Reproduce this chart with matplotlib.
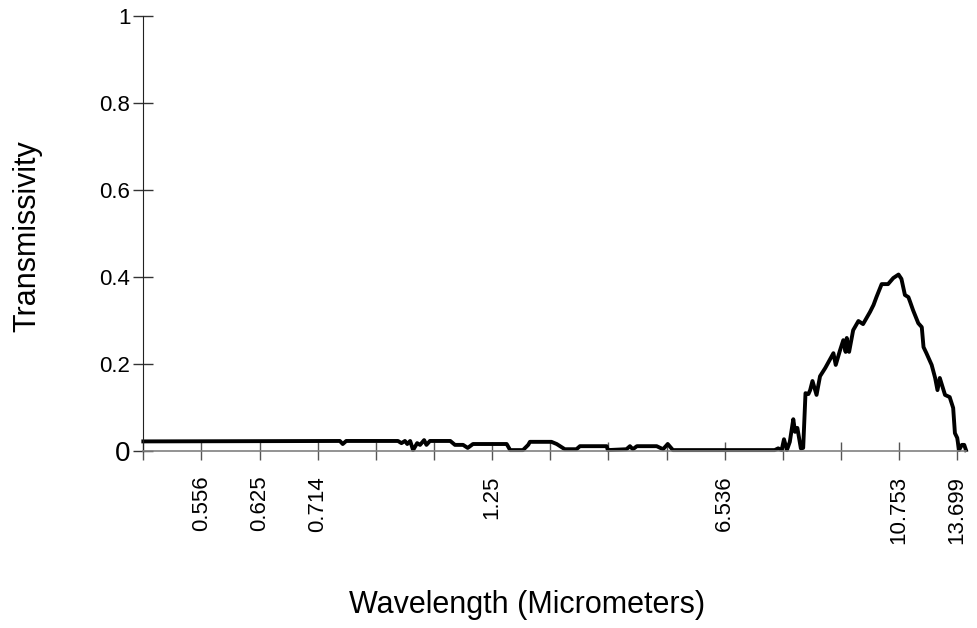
# plot_transmissivity.py
# Transmissivity spectrum vs wavelength band, drawn on an evenly spaced
# band axis (only a few band centres are labelled).

import matplotlib.pyplot as plt

# band positions (10 units per tick) and transmissivity
band_pos = [
    0.0, 33.8, 34.3, 34.9, 43.8, 44.4, 45.0, 45.4, 45.9, 46.4,
    47.1, 47.6, 48.3, 48.7, 49.3, 52.8, 53.6, 55.0, 55.8, 56.7,
    62.5, 63.1, 65.3, 66.2, 66.5, 70.2, 71.1, 72.5, 74.5, 75.1,
    79.7, 79.9, 83.1, 83.7, 84.2, 84.9, 88.3, 89.4, 90.2, 91.1,
    108.6, 109.2, 109.8, 110.2, 110.7, 111.2, 111.8, 112.1, 112.5, 113.1,
    113.5, 113.9, 114.4, 114.7, 115.1, 115.8, 116.4, 117.3, 118.7, 119.1,
    119.8, 120.4, 120.8, 121.0, 121.4, 122.1, 123.0, 123.8, 125.0, 125.6,
    126.1, 127.0, 128.1, 129.0, 129.9, 130.4, 131.0, 131.6, 131.9, 132.4,
    133.3, 133.9, 134.2, 134.7, 135.6, 136.2, 136.6, 137.0, 137.9, 138.7,
    139.3, 139.6, 140.0, 140.3, 140.8, 141.2, 141.5,
]
transmissivity = [
    0.021, 0.022, 0.015, 0.022, 0.022, 0.017, 0.022, 0.015, 0.022, 0.001,
    0.017, 0.013, 0.024, 0.013, 0.022, 0.022, 0.013, 0.013, 0.006, 0.015,
    0.015, 0.001, 0.001, 0.013, 0.020, 0.020, 0.015, 0.003, 0.003, 0.010,
    0.010, 0.001, 0.003, 0.010, 0.003, 0.010, 0.010, 0.003, 0.015, 0.001,
    0.001, 0.005, 0.001, 0.026, 0.001, 0.020, 0.072, 0.043, 0.052, 0.005,
    0.006, 0.132, 0.130, 0.139, 0.160, 0.128, 0.171, 0.190, 0.224, 0.197,
    0.229, 0.254, 0.227, 0.259, 0.227, 0.277, 0.298, 0.291, 0.319, 0.335,
    0.353, 0.383, 0.383, 0.397, 0.405, 0.395, 0.358, 0.353, 0.342, 0.323,
    0.293, 0.284, 0.238, 0.224, 0.197, 0.167, 0.139, 0.167, 0.128, 0.123,
    0.098, 0.040, 0.029, 0.001, 0.013, 0.013, 0.001,
]

tick_pos = [0, 10, 20, 30, 40, 50, 60, 70, 80, 90, 100, 110, 120, 130, 140]
tick_labels = ["", "0.556", "0.625", "0.714", "", "", "1.25", "", "", "",
               "6.536", "", "", "10.753", "13.699"]

y_ticks = [0, 0.2, 0.4, 0.6, 0.8, 1]
y_labels = ["0", "0.2", "0.4", "0.6", "0.8", "1"]


def main():
    plt.rcParams["font.family"] = ["Liberation Sans", "DejaVu Sans"]

    fig = plt.figure(figsize=(9.77, 6.28), dpi=100)
    ax = fig.add_axes([0.1467, 0.2826, 0.842, 0.6919])

    ax.plot(band_pos, transmissivity, color="black", linewidth=2.8,
            solid_joinstyle="round", clip_on=False)

    ax.set_xlim(0, 141.5)
    ax.set_ylim(0, 1)

    for side in ("top", "right"):
        ax.spines[side].set_visible(False)
    ax.spines["left"].set_color("#222222")
    ax.spines["bottom"].set_color("#808080")
    ax.spines["bottom"].set_linewidth(1.2)

    ax.set_xticks(tick_pos)
    ax.set_xticklabels(tick_labels, rotation=90, va="top", fontsize=16)
    ax.tick_params(axis="x", direction="inout", length=12.5, width=1,
                   color="#555555", pad=12)

    ax.set_yticks(y_ticks)
    ax.set_yticklabels(y_labels, fontsize=16)
    ax.tick_params(axis="y", direction="inout", length=14.5, width=1,
                   color="#333333", pad=2)
    # the zero label is drawn larger than the rest
    ax.get_yticklabels()[0].set_fontsize(20)

    ax.set_xlabel("Wavelength (Micrometers)", fontsize=22, va="center")
    ax.set_ylabel("Transmissivity", fontsize=22, va="center")
    ax.yaxis.set_label_coords(-0.141, 0.494)
    ax.xaxis.set_label_coords(0.466, -0.355)

    fig.savefig("out.png", dpi=100)


if __name__ == "__main__":
    main()
